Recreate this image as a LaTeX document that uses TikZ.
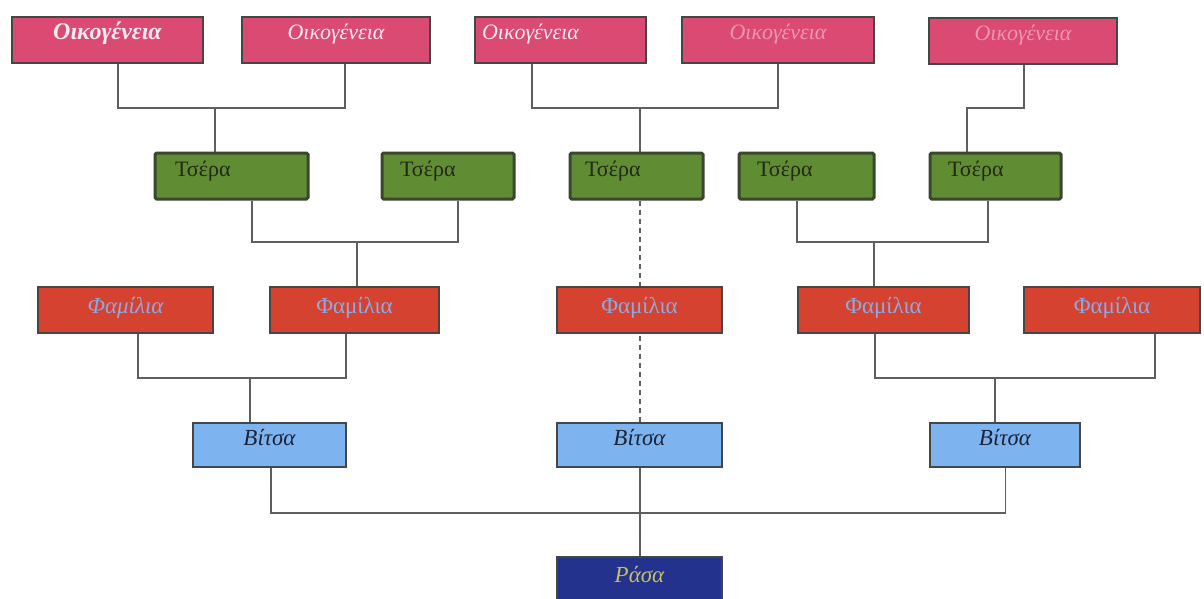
\documentclass[tikz,border=0pt]{standalone}
\usepackage{fontspec}
\setmainfont{Liberation Serif}
\definecolor{pinkbox}{RGB}{218,74,114}
\definecolor{pinktext}{RGB}{250,235,240}
\definecolor{pinkfaint}{RGB}{238,150,175}
\definecolor{greenbox}{RGB}{96,140,52}
\definecolor{greenedge}{RGB}{58,70,45}
\definecolor{greentext}{RGB}{35,40,25}
\definecolor{redbox}{RGB}{214,66,48}
\definecolor{redtext}{RGB}{140,170,225}
\definecolor{bluebox}{RGB}{125,180,240}
\definecolor{bluetext}{RGB}{30,35,55}
\definecolor{navybox}{RGB}{35,50,140}
\definecolor{navytext}{RGB}{200,190,100}
\definecolor{edge}{RGB}{70,70,70}
\definecolor{linegray}{RGB}{95,95,95}
\pgfdeclarelayer{bg}
\pgfdeclarelayer{lines}
\pgfsetlayers{bg,lines,main}
\begin{document}
\begin{tikzpicture}[x=1pt,y=-1pt,
  base/.style={rectangle, draw=edge, line width=1.3pt, minimum height=46pt,
    inner sep=0pt, text height=12pt, text depth=12pt,
    font=\fontsize{23}{25}\selectfont},
  pinkb/.style={base, fill=pinkbox, text=pinktext, font=\fontsize{22}{24}\selectfont\itshape},
  greenb/.style={base, fill=greenbox, draw=greenedge, line width=3pt, rounded corners=1.5pt,
    text=greentext, align=left, font=\fontsize{22}{24}\selectfont},
  redb/.style={base, fill=redbox, text=redtext, text height=13pt, text depth=7pt},
  blueb/.style={base, fill=bluebox, text=bluetext, minimum height=44pt,
    font=\fontsize{23}{25}\selectfont\itshape},
  navyb/.style={base, fill=navybox, text=navytext, minimum height=50pt,
    font=\fontsize{23}{25}\selectfont\itshape},
  conn/.style={draw=linegray, line width=1.4pt},
  dashconn/.style={draw=linegray, line width=1.4pt, dash pattern=on 5pt off 4pt}]
\begin{pgfonlayer}{bg}
\fill[white] (0,0) rectangle (1204,599);
\end{pgfonlayer}
\useasboundingbox (0,0) rectangle (1204,599);

% top row
\node[pinkb, minimum width=191pt, font=\fontsize{24}{26}\selectfont\bfseries\itshape] (O1) at (107.5,40) {Οικογένεια};
\node[pinkb, minimum width=188pt] (O2) at (336,40) {Οικογένεια};
\node[pinkb, minimum width=171pt, text width=157pt, align=left] (O3) at (560.5,40) {Οικογένεια};
\node[pinkb, minimum width=192pt, text=pinkfaint] (O4) at (778,40) {Οικογένεια};
\node[pinkb, minimum width=188pt, text=pinkfaint] (O5) at (1023,41) {Οικογένεια};

% green row
\node[greenb, minimum width=153pt, text width=113pt] (T1) at (231.5,176) {Τσέρα};
\node[greenb, minimum width=132pt, text width=96pt] (T2) at (448,176) {Τσέρα};
\node[greenb, minimum width=133pt, text width=103pt] (T3) at (636.5,176) {Τσέρα};
\node[greenb, minimum width=135pt, text width=99pt] (T4) at (806.5,176) {Τσέρα};
\node[greenb, minimum width=131pt, text width=95pt] (T5) at (995.5,176) {Τσέρα};

% red row
\node[redb, minimum width=175pt, font=\fontsize{23}{25}\selectfont\itshape] (F1) at (125.5,310) {Φαμίλια};
\node[redb, minimum width=169pt] (F2) at (354.5,310) {Φαμίλια};
\node[redb, minimum width=165pt] (F3) at (639.5,310) {Φαμίλια};
\node[redb, minimum width=171pt] (F4) at (883.5,310) {Φαμίλια};
\node[redb, minimum width=176pt] (F5) at (1112,310) {Φαμίλια};

% blue row
\node[blueb, minimum width=153pt] (V1) at (269.5,445) {Βίτσα};
\node[blueb, minimum width=165pt] (V2) at (639.5,445) {Βίτσα};
\node[blueb, minimum width=150pt] (V3) at (1005,445) {Βίτσα};

% root
\node[navyb, minimum width=165pt] (R) at (639.5,582) {Ράσα};

% bus points
\coordinate (b1) at (215,108);
\coordinate (b2) at (640,108);
\coordinate (b3) at (967,108);
\coordinate (b4) at (357,242);
\coordinate (b5) at (874,242);
\coordinate (b6) at (250,378);
\coordinate (b7) at (995,378);
\coordinate (b8) at (640,513);

\begin{pgfonlayer}{lines}
\draw[conn] ([xshift=10.5pt]O1.south) |- (b1) -| ([xshift=9pt]O2.south);
\draw[conn] (b1) -- (T1.north -| b1);
\draw[conn] ([xshift=-28.5pt]O3.south) |- (b2) -| (O4.south);
\draw[conn] (b2) -- (T3.north -| b2);
\draw[conn] ([xshift=1pt]O5.south) |- (b3) -- (T5.north -| b3);

\draw[conn] ([xshift=20.5pt]T1.south) |- (b4) -| ([xshift=10pt]T2.south);
\draw[conn] (b4) -- (F2.north -| b4);
\draw[dashconn] (T3.south -| b8) -- (V2.north -| b8);
\draw[conn] ([xshift=-9.5pt]T4.south) |- (b5) -| ([xshift=-7.5pt]T5.south);
\draw[conn] (b5) -- (F4.north -| b5);

\draw[conn] ([xshift=12.5pt]F1.south) |- (b6) -| ([xshift=-8.5pt]F2.south);
\draw[conn] (b6) -- (V1.north -| b6);
\draw[conn] ([xshift=-8.5pt]F4.south) |- (b7) -| ([xshift=43pt]F5.south);
\draw[conn] (b7) -- (V3.north -| b7);

\draw[conn] ([xshift=1.5pt]V1.south) |- (b8) -| ([xshift=0.5pt]V3.south);
\draw[conn] (V2.south -| b8) -- (R.north -| b8);
\end{pgfonlayer}
\end{tikzpicture}
\end{document}
